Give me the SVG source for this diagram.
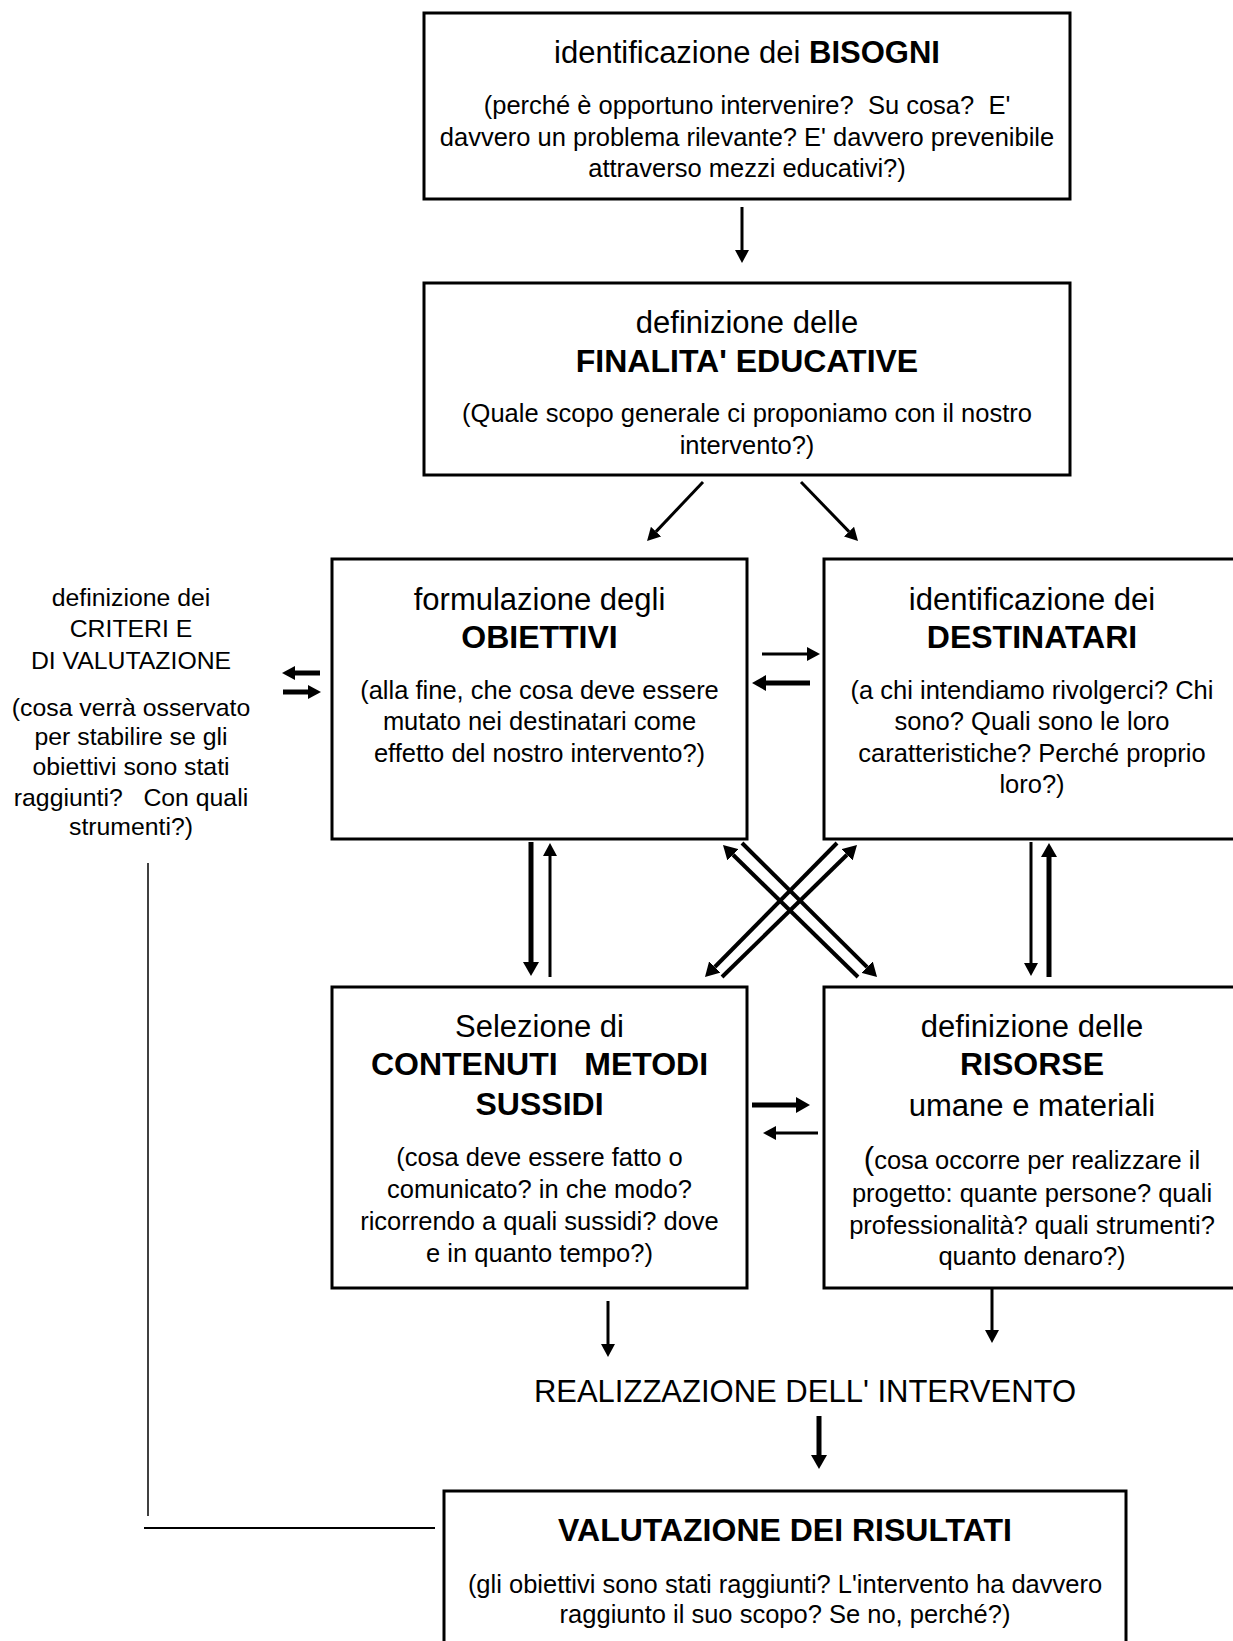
<svg xmlns="http://www.w3.org/2000/svg" width="1233" height="1641" viewBox="0 0 1233 1641">
<style>
text{font-family:"Liberation Sans",Arial,sans-serif;fill:#000;text-anchor:middle;white-space:pre}
.t{font-size:31px}
.tb{font-size:32px;font-weight:bold}
.b{font-size:25.5px}
.l{font-size:24.8px}
.box{fill:#fff;stroke:#000;stroke-width:3}
.c{stroke:#000;fill:none}
.w3{stroke-width:3}
.w4{stroke-width:4}
.w5{stroke-width:5}
</style>
<defs>
<marker id="ah" markerUnits="userSpaceOnUse" markerWidth="13" markerHeight="14" refX="0" refY="7" orient="auto" viewBox="0 0 13 14"><path d="M0,0 L13,7 L0,14 z" fill="#000"/></marker>
<marker id="ahk" markerUnits="userSpaceOnUse" markerWidth="14" markerHeight="16" refX="0" refY="8" orient="auto" viewBox="0 0 14 16"><path d="M0,0 L14,8 L0,16 z" fill="#000"/></marker>
</defs>
<rect width="1233" height="1641" fill="#fff"/>

<g id="connectors">
<line class="c w3" x1="742" y1="207" x2="742" y2="250" marker-end="url(#ah)"/>
<line class="c w3" x1="703" y1="482" x2="656" y2="531.6" marker-end="url(#ah)"/>
<line class="c w3" x1="801" y1="482" x2="849" y2="531.6" marker-end="url(#ah)"/>
<line class="c w5" x1="320" y1="673" x2="295" y2="673" marker-end="url(#ah)"/>
<line class="c w5" x1="283" y1="692" x2="308" y2="692" marker-end="url(#ah)"/>
<line class="c w3" x1="762" y1="654" x2="807" y2="654" marker-end="url(#ah)"/>
<line class="c w5" x1="810" y1="683" x2="766" y2="683" marker-end="url(#ahk)"/>
<line class="c w5" x1="531" y1="842" x2="531" y2="962" marker-end="url(#ahk)"/>
<line class="c w3" x1="550" y1="977" x2="550" y2="856" marker-end="url(#ah)"/>
<line class="c w3" x1="1031" y1="842" x2="1031" y2="963" marker-end="url(#ah)"/>
<line class="c w5" x1="1049" y1="977" x2="1049" y2="857" marker-end="url(#ahk)"/>
<line class="c w4" x1="858" y1="977" x2="733" y2="854.8" marker-end="url(#ahk)"/>
<line class="c w4" x1="742" y1="843" x2="867.1" y2="967.1" marker-end="url(#ahk)"/>
<line class="c w4" x1="837" y1="843" x2="714.8" y2="967" marker-end="url(#ahk)"/>
<line class="c w4" x1="722" y1="977" x2="847" y2="854.8" marker-end="url(#ahk)"/>
<line class="c w5" x1="752" y1="1105" x2="796" y2="1105" marker-end="url(#ahk)"/>
<line class="c w3" x1="818" y1="1133" x2="776" y2="1133" marker-end="url(#ah)"/>
<line class="c w3" x1="608" y1="1301" x2="608" y2="1344" marker-end="url(#ah)"/>
<line class="c w3" x1="992" y1="1289" x2="992" y2="1330" marker-end="url(#ah)"/>
<line class="c w5" x1="819" y1="1416" x2="819" y2="1455" marker-end="url(#ahk)"/>
<line class="c" stroke-width="1.5" x1="148" y1="863" x2="148" y2="1516"/>
<line class="c" stroke-width="2" x1="144" y1="1528" x2="435" y2="1528"/>
</g>

<g id="bisogni">
<rect class="box" x="424" y="13" width="646" height="186"/>
<text class="t" x="747" y="63">identificazione dei <tspan font-weight="bold">BISOGNI</tspan></text>
<text class="b" x="747" y="114">(perché è opportuno intervenire?  Su cosa?  E'</text>
<text class="b" x="747" y="146">davvero un problema rilevante? E' davvero prevenibile</text>
<text class="b" x="747" y="177">attraverso mezzi educativi?)</text>
</g>

<g id="finalita">
<rect class="box" x="424" y="283" width="646" height="192"/>
<text class="t" x="747" y="333">definizione delle</text>
<text class="tb" x="747" y="372">FINALITA' EDUCATIVE</text>
<text class="b" x="747" y="422">(Quale scopo generale ci proponiamo con il nostro</text>
<text class="b" x="747" y="454">intervento?)</text>
</g>

<g id="criteri">
<text class="l" x="131" y="606">definizione dei</text>
<text class="l" x="131" y="637">CRITERI E</text>
<text class="l" x="131" y="669">DI VALUTAZIONE</text>
<text class="l" x="131" y="716">(cosa verrà osservato</text>
<text class="l" x="131" y="745">per stabilire se gli</text>
<text class="l" x="131" y="775">obiettivi sono stati</text>
<text class="l" x="131" y="806">raggiunti?   Con quali</text>
<text class="l" x="131" y="835">strumenti?)</text>
</g>

<g id="obiettivi">
<rect class="box" x="332" y="559" width="415" height="280"/>
<text class="t" x="539.5" y="610">formulazione degli</text>
<text class="tb" x="539.5" y="648">OBIETTIVI</text>
<text class="b" x="539.5" y="699">(alla fine, che cosa deve essere</text>
<text class="b" x="539.5" y="730">mutato nei destinatari come</text>
<text class="b" x="539.5" y="762">effetto del nostro intervento?)</text>
</g>

<g id="destinatari">
<rect class="box" x="824" y="559" width="418" height="280"/>
<text class="t" x="1032" y="610">identificazione dei</text>
<text class="tb" x="1032" y="648">DESTINATARI</text>
<text class="b" x="1032" y="699">(a chi intendiamo rivolgerci? Chi</text>
<text class="b" x="1032" y="730">sono? Quali sono le loro</text>
<text class="b" x="1032" y="762">caratteristiche? Perché proprio</text>
<text class="b" x="1032" y="793">loro?)</text>
</g>

<g id="contenuti">
<rect class="box" x="332" y="987" width="415" height="301"/>
<text class="t" x="539.5" y="1037">Selezione di</text>
<text class="tb" x="539.5" y="1075">CONTENUTI   METODI</text>
<text class="tb" x="539.5" y="1115">SUSSIDI</text>
<text class="b" x="539.5" y="1166">(cosa deve essere fatto o</text>
<text class="b" x="539.5" y="1198">comunicato? in che modo?</text>
<text class="b" x="539.5" y="1230">ricorrendo a quali sussidi? dove</text>
<text class="b" x="539.5" y="1262">e in quanto tempo?)</text>
</g>

<g id="risorse">
<rect class="box" x="824" y="987" width="418" height="301"/>
<text class="t" x="1032" y="1037">definizione delle</text>
<text class="tb" x="1032" y="1075">RISORSE</text>
<text class="t" x="1032" y="1116">umane e materiali</text>
<text class="b" x="1032" y="1169"><tspan font-size="31px">(</tspan>cosa occorre per realizzare il</text>
<text class="b" x="1032" y="1202">progetto: quante persone? quali</text>
<text class="b" x="1032" y="1234">professionalità? quali strumenti?</text>
<text class="b" x="1032" y="1265">quanto denaro?)</text>
</g>

<g id="realizzazione">
<text class="t" x="805" y="1402">REALIZZAZIONE DELL' INTERVENTO</text>
</g>

<g id="valutazione">
<rect class="box" x="444" y="1491" width="682" height="170"/>
<text class="tb" x="785" y="1541">VALUTAZIONE DEI RISULTATI</text>
<text class="b" x="785" y="1593">(gli obiettivi sono stati raggiunti? L'intervento ha davvero</text>
<text class="b" x="785" y="1623">raggiunto il suo scopo? Se no, perché?)</text>
</g>
</svg>
